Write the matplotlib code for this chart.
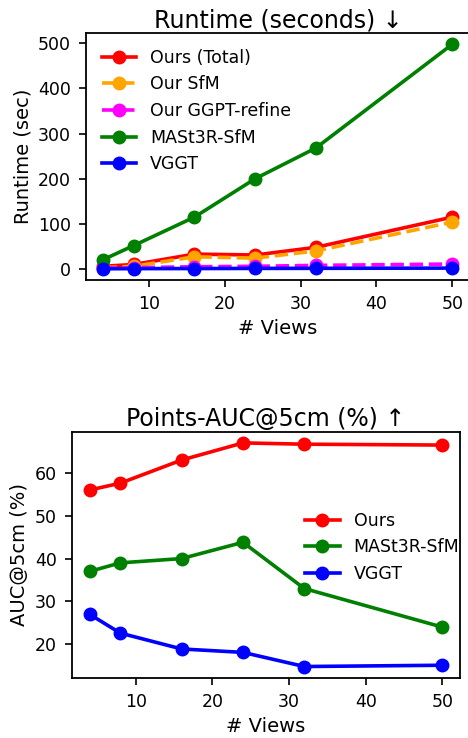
import matplotlib.pyplot as plt

views = [4, 8, 16, 24, 32, 50]

# runtime (sec)
rt_ours_total = [6, 10, 33, 31, 48, 115]
rt_our_sfm = [3, 6, 27, 24, 40, 104]
rt_ggpt_refine = [2, 3, 5, 6, 8, 11]
rt_mast3r = [21, 52, 115, 200, 268, 498]
rt_vggt = [0.5, 0.8, 1.0, 1.3, 1.5, 2.0]

# points AUC@5cm (%)
auc_ours = [56.0, 57.6, 63.0, 67.0, 66.7, 66.5]
auc_mast3r = [37.0, 39.0, 40.0, 43.8, 33.0, 24.0]
auc_vggt = [27.0, 22.6, 18.9, 18.1, 14.8, 15.1]

fig = plt.figure(figsize=(4.68, 7.38), dpi=100)

lw = 2.6
ms = 9
tick_fs = 12.5
label_fs = 14
legend_fs = 12.5
title_fs = 17


def style(ax):
    ax.tick_params(labelsize=tick_fs, length=5, width=1.2, pad=6)
    for s in ax.spines.values():
        s.set_linewidth(1.3)


# --- runtime ---
ax1 = fig.add_axes([0.1838, 0.6206, 0.82, 0.3347])
ax1.plot(views, rt_ours_total, '-o', color='red', lw=lw, ms=ms, label='Ours (Total)')
ax1.plot(views, rt_our_sfm, '--o', color='orange', lw=lw, ms=ms, label='Our SfM')
ax1.plot(views, rt_ggpt_refine, '--o', color='magenta', lw=lw, ms=ms, label='Our GGPT-refine')
ax1.plot(views, rt_mast3r, '-o', color='green', lw=lw, ms=ms, label='MASt3R-SfM')
ax1.plot(views, rt_vggt, '-o', color='blue', lw=lw, ms=ms, label='VGGT')
ax1.set_title('Runtime (seconds) ↓', fontsize=title_fs, pad=4)
ax1.set_xlabel('# Views', fontsize=label_fs)
ax1.set_ylabel('Runtime (sec)', fontsize=label_fs)
style(ax1)
ax1.legend(loc='upper left', frameon=False, fontsize=legend_fs)

# --- AUC ---
ax2 = fig.add_axes([0.1538, 0.0817, 0.8291, 0.3333])
ax2.plot(views, auc_ours, '-o', color='red', lw=lw, ms=ms, label='Ours')
ax2.plot(views, auc_mast3r, '-o', color='green', lw=lw, ms=ms, label='MASt3R-SfM')
ax2.plot(views, auc_vggt, '-o', color='blue', lw=lw, ms=ms, label='VGGT')
ax2.set_title('Points-AUC@5cm (%) ↑', fontsize=title_fs, pad=4)
ax2.set_xlabel('# Views', fontsize=label_fs)
ax2.set_ylabel('AUC@5cm (%)', fontsize=label_fs)
style(ax2)
ax2.legend(loc='center left', bbox_to_anchor=(0.56, 0.53), frameon=False, fontsize=legend_fs)

fig.savefig('out.png', dpi=100)
